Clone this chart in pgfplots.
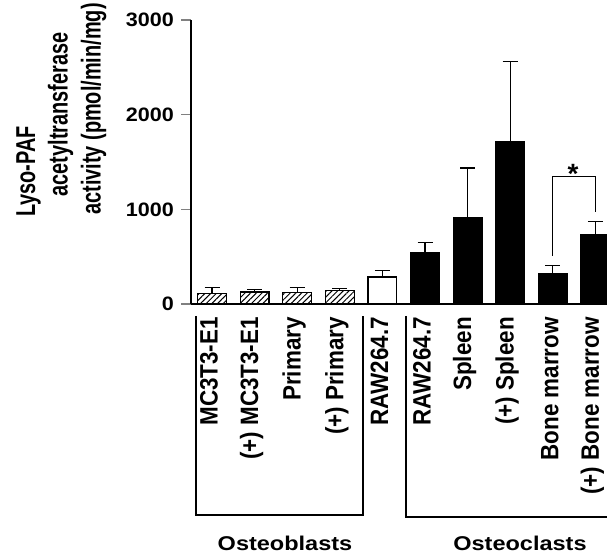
\documentclass[border=0pt]{standalone}
\usepackage{fontspec}
\setmainfont{Liberation Sans}
\usepackage{graphicx}
\usepackage{pgfplots}
\pgfplotsset{compat=1.18}
\usetikzlibrary{patterns.meta}
\newcommand{\xl}[1]{\scalebox{1}[1.12]{#1}}
\newcommand{\yl}[1]{\scalebox{1.11}[1]{#1}}
\newcommand{\ylab}[1]{\scalebox{1}[1.37]{\fontsize{20}{24}\selectfont\bfseries #1}}
\begin{document}
\begin{tikzpicture}[x=1bp,y=1bp]
\path[use as bounding box] (0,0) rectangle (607,555);
\begin{axis}[
  at={(191bp,251bp)}, anchor=south west,
  scale only axis, width=416bp, height=284bp,
  xmin=-0.493, xmax=9.272, ymin=0, ymax=3000,
  axis lines*=left,
  axis line style={line width=1.2bp},
  xtick={-0.07,0.93,1.93,2.93,3.93,4.93,5.93,6.93,7.93,8.93},
  xticklabels={\xl{MC3T3-E1},\xl{(+) MC3T3-E1},\xl{Primary},\xl{(+) Primary},\xl{RAW264.7},\xl{RAW264.7},\xl{Spleen},\xl{(+) Spleen},\xl{Bone marrow},\xl{(+) Bone marrow}},
  xtick style={draw=none},
  xticklabel style={rotate=90, anchor=east, inner sep=0pt, font=\fontsize{22.5}{27}\selectfont\bfseries},
  xticklabel shift=3bp,
  ytick={0,1000,2000,3000},
  yticklabels={\yl{0},\yl{1000},\yl{2000},\yl{3000}},
  tick align=outside, major tick length=10bp,
  ytick style={line width=1.2bp},
  yticklabel style={font=\fontsize{19.5}{24}\selectfont\bfseries, inner sep=0pt, xshift=-7bp},
]
\addplot[ybar, bar width=28.7bp, bar shift=0pt, draw=black, line width=1.2bp,
  pattern={Lines[angle=45,distance=4bp,line width=1bp]},
  error bars/.cd, y dir=plus, y explicit,
  error bar style={line width=1.2bp, black},
  error mark options={rotate=90, mark size=7.5bp, line width=1.2bp}]
  table[x=x,y=y,y error=e] {
x y e
0 113 59
1 127 28
2 123 49
3 145 17
};
\addplot[ybar, bar width=28.7bp, bar shift=0pt, draw=black, fill=white, line width=1.2bp,
  error bars/.cd, y dir=plus, y explicit,
  error bar style={line width=1.2bp, black},
  error mark options={rotate=90, mark size=7.5bp, line width=1.2bp}]
  table[x=x,y=y,y error=e] {
x y e
4 285 67
};
\addplot[ybar, bar width=28.7bp, bar shift=0pt, draw=black, fill=black, line width=1.2bp,
  error bars/.cd, y dir=plus, y explicit,
  error bar style={line width=1.2bp, black},
  error mark options={rotate=90, mark size=7.5bp, line width=1.2bp}]
  table[x=x,y=y,y error=e] {
x y e
5 542 109
6 908 528
7 1711 848
8 324 81
9 729 140
};
\draw[line width=1.3bp] (axis cs:8,507) -- (axis cs:8,1349) -- (axis cs:9,1349) -- (axis cs:9,971);
\end{axis}
\draw[line width=2bp] (195.7,239) -- (195.7,40) -- (363.3,40) -- (363.3,239);
\draw[line width=2bp] (405.7,239) -- (405.7,38.3) -- (615,38.3);
\node[inner sep=0pt, font=\fontsize{20}{24}\selectfont\bfseries] at (285,11.5) {\scalebox{1.18}[1]{Osteoblasts}};
\node[inner sep=0pt, font=\fontsize{20}{24}\selectfont\bfseries] at (520,11.5) {\scalebox{1.18}[1]{Osteoclasts}};
\node[rotate=90, inner sep=0pt, anchor=base] at (35,383.5) {\ylab{Lyso-PAF}};
\node[rotate=90, inner sep=0pt, anchor=base] at (67.5,440.5) {\ylab{acetyltransferase}};
\node[rotate=90, inner sep=0pt, anchor=base] at (100.5,446) {\ylab{activity (pmol/min/mg)}};
\node[font=\fontsize{28}{32}\selectfont\bfseries, anchor=base] at (573,371) {*};
\end{tikzpicture}
\end{document}
